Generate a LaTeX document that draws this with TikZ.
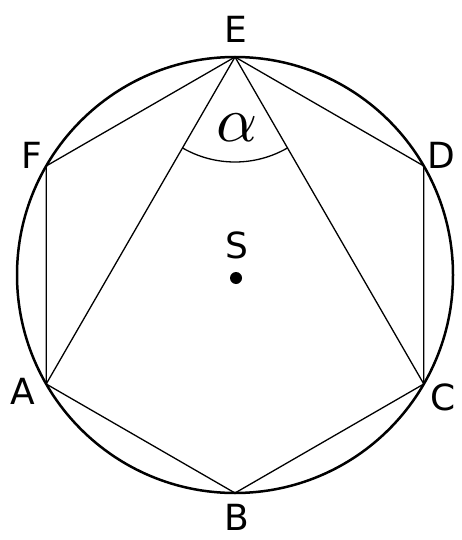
\documentclass[tikz,border=0pt]{standalone}
\usepackage{fontspec}
\setmainfont{DejaVu Sans}
\usetikzlibrary{calc}
\begin{document}
\begin{tikzpicture}[x=1pt,y=-1pt,
  lbl/.style={inner sep=0pt,font=\fontsize{36}{40}\selectfont},
  side/.style={line width=1.3pt,line join=round},
  rim/.style={line width=2.5pt}]
\useasboundingbox (0,0) rectangle (462,540);
\coordinate (O) at (235,275);
\draw[rim] (O) circle[radius=218];
\coordinate (E) at (235,57);
\coordinate (D) at ({235+188.8},166);
\coordinate (C) at ({235+188.8},384);
\coordinate (B) at (235,493);
\coordinate (A) at ({235-188.8},384);
\coordinate (F) at ({235-188.8},166);
\draw[side] (A) -- (B) -- (C) -- (D) -- (E) -- (F) -- cycle;
\draw[side] (A) -- (E) -- (C);
\draw[side] (E) ++(120:105) arc[start angle=120,end angle=60,radius=105];
\node[lbl] (lE) at (236,29) {E};
\node[lbl] (lF) at (32,155) {F};
\node[lbl] (lD) at (441,155) {D};
\node[lbl] (lA) at (23,391) {A};
\node[lbl] (lC) at (443,397) {C};
\node[lbl] (lB) at (237,517) {B};
\node[lbl] (lS) at (237,245) {S};
\fill (236,278) circle[radius=6];
\node[inner sep=0pt,scale=6.4] (al) at (237,128) {$\alpha$};
\end{tikzpicture}
\end{document}
